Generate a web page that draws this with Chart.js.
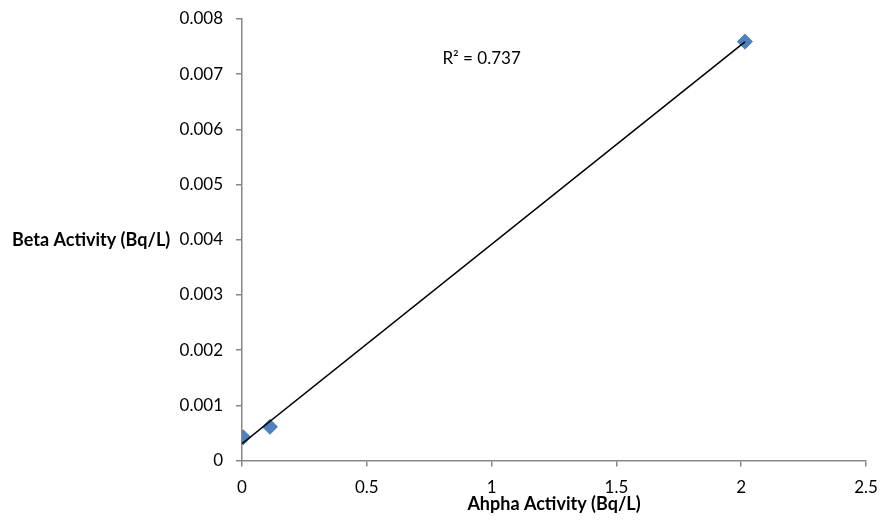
<!DOCTYPE html>
<html>
<head>
<meta charset="utf-8">
<script src="https://cdn.jsdelivr.net/npm/chart.js@4/dist/chart.umd.min.js"></script>
<style>
  html, body { margin: 0; padding: 0; background: #fff; }
  #wrap { width: 880px; height: 527px; }
</style>
</head>
<body>
<div id="wrap"><canvas id="chart"></canvas></div>
<script>
// valeurs
const alphaValues = [0.005, 0.112, 2.015];
const betaValues = [0.00042, 0.00061, 0.00759];
const xTicks = [0, 0.5, 1, 1.5, 2, 2.5];
const yTicks = [0, 0.001, 0.002, 0.003, 0.004, 0.005, 0.006, 0.007, 0.008];
const rSquaredLabel = "R² = 0.737";
const xTitle = "Ahpha Activity (Bq/L)";
const yTitle = "Beta Activity (Bq/L)";

const FONT = "Lato, 'Open Sans', sans-serif";
const AXIS_GREY = "#878787";

// régression linéaire pour la courbe de tendance
function linearFit(xs, ys) {
  const n = xs.length;
  const mx = xs.reduce((a, b) => a + b, 0) / n;
  const my = ys.reduce((a, b) => a + b, 0) / n;
  let sxy = 0, sxx = 0;
  for (let i = 0; i < n; i++) {
    sxy += (xs[i] - mx) * (ys[i] - my);
    sxx += (xs[i] - mx) * (xs[i] - mx);
  }
  const slope = sxy / sxx;
  return { slope, intercept: my - slope * mx };
}

const fit = linearFit(alphaValues, betaValues);
const trendX = [0, Math.max(...alphaValues)];
const trendPoints = trendX.map((x) => ({ x, y: fit.intercept + fit.slope * x }));
const points = alphaValues.map((x, i) => ({ x, y: betaValues[i] }));

// titre Y horizontal + étiquette R²
const extras = {
  id: "extras",
  afterDraw(chart) {
    const { ctx, chartArea, scales } = chart;
    ctx.save();
    ctx.fillStyle = "#000";
    ctx.textBaseline = "middle";
    ctx.font = "bold 18px " + FONT;
    ctx.textAlign = "left";
    ctx.fillText(yTitle, 12, (chartArea.top + chartArea.bottom) / 2);
    ctx.font = "17px " + FONT;
    ctx.textAlign = "center";
    ctx.fillText(rSquaredLabel, scales.x.getPixelForValue(0.96), scales.y.getPixelForValue(0.00728));
    ctx.restore();
  },
};

new Chart(document.getElementById("chart"), {
  type: "scatter",
  data: {
    datasets: [
      {
        type: "line",
        data: trendPoints,
        borderColor: "#000",
        borderWidth: 1.5,
        pointRadius: 0,
        fill: false,
      },
      {
        data: points,
        pointStyle: "rectRot",
        pointRadius: 7.5,
        backgroundColor: "#4f81bd",
        borderColor: "#4a7ebb",
        borderWidth: 1,
      },
    ],
  },
  options: {
    responsive: true,
    maintainAspectRatio: false,
    animation: false,
    layout: { padding: { top: 19, right: 14, left: 0, bottom: 0 } },
    plugins: {
      legend: { display: false },
      tooltip: { enabled: false },
    },
    scales: {
      x: {
        type: "linear",
        min: 0,
        max: 2.5,
        afterBuildTicks: (s) => { s.ticks = xTicks.map((v) => ({ value: v })); },
        afterFit: (s) => {
          s.height = 66.5;
          s.paddingLeft = 0;
          s.paddingRight = 0;
        },
        border: { color: AXIS_GREY, width: 1.5 },
        grid: { drawOnChartArea: false, tickLength: 6, color: AXIS_GREY, lineWidth: 1.5 },
        ticks: {
          color: "#000",
          padding: 11,
          maxRotation: 0,
          font: { family: FONT, size: 17 },
          callback: (v) => String(v),
        },
        title: {
          display: true,
          text: xTitle,
          color: "#000",
          padding: { top: 0, bottom: 12 },
          font: { family: FONT, size: 18, weight: "bold" },
        },
      },
      y: {
        type: "linear",
        min: 0,
        max: 0.008,
        afterBuildTicks: (s) => { s.ticks = yTicks.map((v) => ({ value: v })); },
        afterFit: (s) => {
          s.width = 242;
          s.paddingTop = 0;
          s.paddingBottom = 0;
        },
        border: { color: AXIS_GREY, width: 1.5 },
        grid: { drawOnChartArea: false, tickLength: 6, color: AXIS_GREY, lineWidth: 1.5 },
        ticks: {
          color: "#000",
          padding: 13,
          font: { family: FONT, size: 17 },
          callback: (v) => (v === 0 ? "0" : v.toFixed(3)),
        },
      },
    },
  },
  plugins: [extras],
});
</script>
</body>
</html>
